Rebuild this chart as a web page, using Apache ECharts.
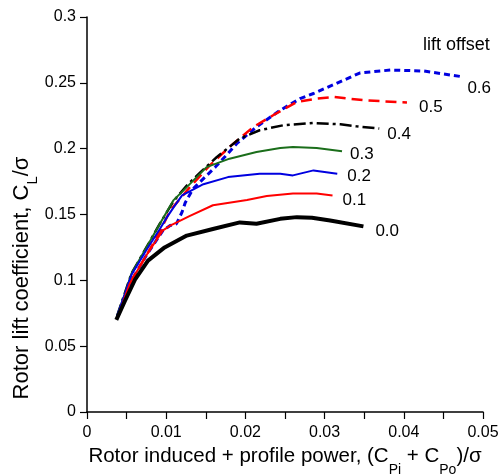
<!DOCTYPE html>
<html>
<head>
<meta charset="utf-8">
<script src="https://cdn.jsdelivr.net/npm/echarts@6/dist/echarts.min.js"></script>
<style>
  html, body { margin: 0; padding: 0; background: #fff; }
  #main { width: 503px; height: 475px; }
</style>
</head>
<body>
<div id="main"></div>
<script>
// lift offset values and curves
var offsets = ['0.0', '0.1', '0.2', '0.3', '0.4', '0.5', '0.6'];

var x00 = [0.0037, 0.0048, 0.0061, 0.0077, 0.0098, 0.0126, 0.0159, 0.0193, 0.0214, 0.0244, 0.0265, 0.0284, 0.0307, 0.0349];
var y00 = [0.070, 0.0845, 0.101, 0.115, 0.125, 0.134, 0.139, 0.144, 0.143, 0.1467, 0.148, 0.1475, 0.1455, 0.141];

var x01 = [0.0040, 0.0054, 0.0075, 0.0096, 0.0105, 0.0130, 0.0159, 0.0202, 0.0227, 0.0260, 0.0290, 0.0310];
var y01 = [0.074, 0.0975, 0.119, 0.138, 0.1416, 0.149, 0.157, 0.161, 0.164, 0.166, 0.166, 0.1645];

var x02 = [0.0038, 0.0048, 0.0056, 0.0075, 0.0092, 0.0101, 0.0110, 0.0120, 0.0147, 0.0178, 0.0218, 0.0244, 0.0260, 0.0286, 0.0316];
var y02 = [0.073, 0.090, 0.104, 0.123, 0.139, 0.148, 0.156, 0.1645, 0.173, 0.1784, 0.181, 0.181, 0.1797, 0.1835, 0.181];

var x03 = [0.0038, 0.0048, 0.0056, 0.0075, 0.0092, 0.0109, 0.0126, 0.0151, 0.0180, 0.0214, 0.0244, 0.0260, 0.0290, 0.0322];
var y03 = [0.073, 0.090, 0.105, 0.125, 0.143, 0.1607, 0.1708, 0.186, 0.1924, 0.1974, 0.2005, 0.2013, 0.2005, 0.198];

var x04 = [0.0038, 0.0056, 0.0075, 0.0092, 0.0109, 0.0126, 0.0143, 0.0164, 0.0193, 0.0218, 0.0248, 0.0286, 0.0320, 0.0340, 0.0369];
var y04 = [0.073, 0.105, 0.125, 0.143, 0.160, 0.172, 0.182, 0.1937, 0.2077, 0.214, 0.2178, 0.2195, 0.2185, 0.217, 0.2153];

var x05 = [0.0040, 0.0056, 0.0075, 0.0092, 0.0105, 0.0130, 0.0155, 0.0180, 0.0210, 0.0235, 0.0265, 0.0290, 0.0311, 0.0349, 0.0404];
var y05 = [0.074, 0.100, 0.119, 0.137, 0.153, 0.1708, 0.1873, 0.2013, 0.2165, 0.2254, 0.2355, 0.238, 0.2393, 0.2368, 0.235];

var x06 = [0.0040, 0.0054, 0.0075, 0.0096, 0.0105, 0.0113, 0.0120, 0.0124, 0.0134, 0.0149, 0.0162, 0.0178, 0.0189, 0.0214, 0.0244, 0.0269, 0.0286, 0.0345, 0.0383, 0.0425, 0.0474];
var y06 = [0.074, 0.0975, 0.119, 0.138, 0.1416, 0.143, 0.1518, 0.159, 0.1696, 0.1784, 0.186, 0.1964, 0.2038, 0.2165, 0.2292, 0.238, 0.2419, 0.2576, 0.2597, 0.259, 0.2546];

var xTicks = [0, 0.01, 0.02, 0.03, 0.04, 0.05];
var yTicks = [0, 0.05, 0.1, 0.15, 0.2, 0.25, 0.3];

function pairs(xs, ys) {
  return xs.map(function (v, i) { return [v, ys[i]]; });
}

var font = 'Liberation Sans, Arial, sans-serif';

// one entry per curve: data, line style, where its label sits
var curves = [
  { name: offsets[6], data: pairs(x06, y06), color: '#0000e0', width: 3, type: [6, 4], off: [-3, 12] },
  { name: offsets[5], data: pairs(x05, y05), color: '#ff0000', width: 2.5, type: [11, 6], off: [4, 5] },
  { name: offsets[4], data: pairs(x04, y04), color: '#000000', width: 2.5, type: [12, 4, 3, 4], off: [0, 6] },
  { name: offsets[3], data: pairs(x03, y03), color: '#1b6e1b', width: 2, type: 'solid', off: [0, 3] },
  { name: offsets[2], data: pairs(x02, y02), color: '#0000e0', width: 2, type: 'solid', off: [2, 3] },
  { name: offsets[1], data: pairs(x01, y01), color: '#ff0000', width: 2, type: 'solid', off: [2, 5] },
  { name: offsets[0], data: pairs(x00, y00), color: '#000000', width: 4, type: 'solid', off: [4, 5] }
];

var chart = echarts.init(document.getElementById('main'));

chart.setOption({
  animation: false,
  grid: { left: 87, right: 20, top: 17, bottom: 63, outerBoundsMode: 'none', containLabel: false },
  title: {
    text: 'lift offset',
    left: 418,
    top: 31,
    textStyle: { fontFamily: font, fontSize: 18, fontWeight: 'normal', color: '#000' }
  },
  xAxis: {
    type: 'value',
    min: xTicks[0],
    max: xTicks[xTicks.length - 1],
    interval: 0.01,
    splitLine: { show: false },
    axisLine: { onZero: false, lineStyle: { color: '#000', width: 1.5 } },
    axisTick: { length: 7, lineStyle: { color: '#000', width: 1.2 } },
    minorTick: { show: true, splitNumber: 2, length: 7, lineStyle: { color: '#000', width: 1.2 } },
    axisLabel: { fontFamily: font, fontSize: 16, color: '#000', margin: 13 },
    name: 'Rotor induced + profile power, (C{s|Pi} + C{s|Po})/σ',
    nameLocation: 'middle',
    nameGap: 20,
    nameTextStyle: {
      fontFamily: font, fontSize: 20.5, color: '#000',
      rich: { s: { fontFamily: font, fontSize: 14, color: '#000', verticalAlign: 'bottom', lineHeight: 42 } }
    }
  },
  yAxis: {
    type: 'value',
    min: yTicks[0],
    max: yTicks[yTicks.length - 1],
    interval: 0.05,
    splitLine: { show: false },
    axisLine: { onZero: false, lineStyle: { color: '#000', width: 1.5 } },
    axisTick: { length: 7, lineStyle: { color: '#000', width: 1.2 } },
    axisLabel: { fontFamily: font, fontSize: 16, color: '#000', margin: 11 }
  },
  graphic: [{
    type: 'text',
    x: 22,
    y: 278,
    rotation: Math.PI / 2,
    style: {
      text: 'Rotor lift coefficient, C{s|L}/σ',
      fontFamily: font,
      fontSize: 22,
      fill: '#000',
      align: 'center',
      verticalAlign: 'middle',
      rich: { s: { fontFamily: font, fontSize: 15, fill: '#000', verticalAlign: 'bottom', lineHeight: 36 } }
    }
  }],
  series: curves.map(function (c) {
    return {
      name: c.name,
      type: 'line',
      data: c.data,
      symbol: 'none',
      silent: true,
      lineStyle: { color: c.color, width: c.width, type: c.type },
      endLabel: {
        show: true,
        formatter: '{a}',
        offset: c.off,
        fontFamily: font,
        fontSize: 17,
        color: '#000'
      }
    };
  })
});
</script>
</body>
</html>
